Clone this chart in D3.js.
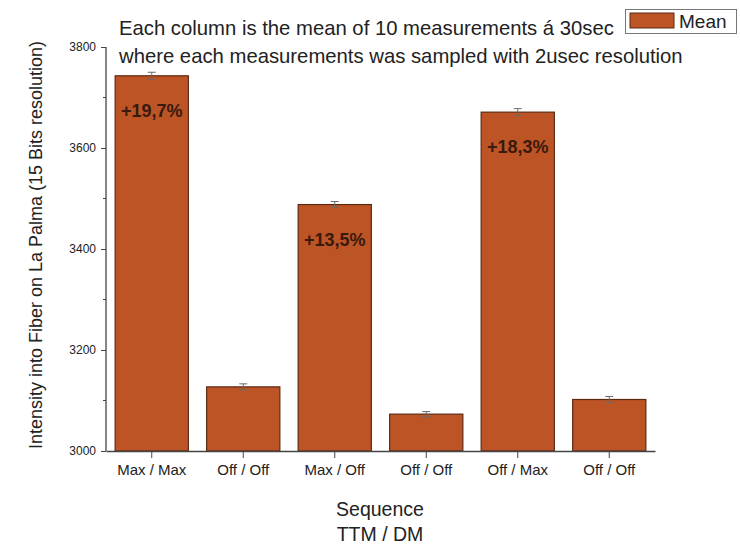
<!DOCTYPE html>
<html>
<head>
<meta charset="utf-8">
<script src="https://cdn.jsdelivr.net/npm/d3@7"></script>
<style>
  html, body { margin: 0; padding: 0; background: #fff; }
  svg { display: block; font-family: "Liberation Sans", Arial, sans-serif; }
</style>
</head>
<body>
<svg id="chart" width="740" height="544"></svg>
<script>
// Sequence of TTM / DM states and the mean intensity measured for each
const categories = ["Max / Max", "Off / Off", "Max / Off", "Off / Off", "Off / Max", "Off / Off"];
const means = [3743, 3127, 3488, 3073, 3671, 3102];
const errors = [7, 6, 6, 5, 7, 6];
const gainLabels = ["+19,7%", null, "+13,5%", null, "+18,3%", null];
const yTicks = [3000, 3200, 3400, 3600, 3800];
const yMinorTicks = [3100, 3300, 3500, 3700];

const svg = d3.select("#chart");
const barFill = "#bc5426";
const barStroke = "#5c2a14";
const axisColor = "#444";

const x = d3.scaleBand()
  .domain(d3.range(categories.length))
  .range([106, 655])
  .paddingInner(0.2)
  .paddingOuter(0.1);

const y = d3.scaleLinear().domain([3000, 3800]).range([451, 47]);

// bars
svg.append("g").selectAll("rect")
  .data(means)
  .join("rect")
  .attr("x", (d, i) => x(i))
  .attr("width", x.bandwidth())
  .attr("y", d => y(d))
  .attr("height", d => y(3000) - y(d))
  .attr("fill", barFill)
  .attr("stroke", barStroke)
  .attr("stroke-width", 1.2);

// error bars
const eb = svg.append("g").attr("stroke", "#6a6a6a").attr("stroke-width", 1);
means.forEach((m, i) => {
  const cx = x(i) + x.bandwidth() / 2;
  eb.append("line").attr("x1", cx).attr("x2", cx).attr("y1", y(m - errors[i])).attr("y2", y(m + errors[i]));
  eb.append("line").attr("x1", cx - 4).attr("x2", cx + 4).attr("y1", y(m + errors[i])).attr("y2", y(m + errors[i]));
  eb.append("line").attr("x1", cx - 4).attr("x2", cx + 4).attr("y1", y(m - errors[i])).attr("y2", y(m - errors[i]));
});

// percentage gains inside the high bars
svg.append("g").selectAll("text")
  .data(means.map((m, i) => ({ m, i, t: gainLabels[i] })).filter(d => d.t))
  .join("text")
  .attr("x", d => x(d.i) + x.bandwidth() / 2)
  .attr("y", d => y(d.m) + 41)
  .attr("text-anchor", "middle")
  .attr("font-size", 18)
  .attr("font-weight", "bold")
  .attr("fill", "#3a1a0c")
  .text(d => d.t);

// y axis
const yAxis = d3.axisLeft(y).tickValues(yTicks).tickSize(5).tickPadding(5).tickFormat(d3.format("d"));
const gy = svg.append("g").attr("transform", "translate(106,0)").call(yAxis);
gy.select(".domain").attr("stroke", axisColor).attr("stroke-width", 1.3).attr("d", `M0,${y(3800)}V${y(3000)}`);
gy.selectAll(".tick line").attr("stroke", axisColor);
gy.selectAll(".tick text").attr("font-size", 12).attr("fill", "#222");
gy.append("g").selectAll("line")
  .data(yMinorTicks)
  .join("line")
  .attr("x1", -3).attr("x2", 0)
  .attr("y1", d => y(d)).attr("y2", d => y(d))
  .attr("stroke", axisColor);

// x axis
const xAxis = d3.axisBottom(x).tickFormat(i => categories[i]).tickSize(7).tickPadding(6).tickSizeOuter(0);
const gx = svg.append("g").attr("transform", `translate(0,${y(3000)})`).call(xAxis);
gx.select(".domain").attr("stroke", axisColor).attr("stroke-width", 1.5);
gx.selectAll(".tick line").attr("stroke", axisColor);
gx.selectAll(".tick text").attr("font-size", 15).attr("fill", "#222");

// axis titles
svg.append("text")
  .attr("transform", "translate(42,245) rotate(-90)")
  .attr("text-anchor", "middle")
  .attr("font-size", 18)
  .attr("fill", "#222")
  .text("Intensity into Fiber on La Palma (15 Bits resolution)");

svg.append("text").attr("x", 380).attr("y", 516).attr("text-anchor", "middle")
  .attr("font-size", 19.5).attr("fill", "#222").text("Sequence");
svg.append("text").attr("x", 380).attr("y", 541).attr("text-anchor", "middle")
  .attr("font-size", 19.5).attr("fill", "#222").text("TTM / DM");

// annotation
const note = svg.append("g").attr("font-size", 20.3).attr("fill", "#222");
note.append("text").attr("x", 119).attr("y", 35).text("Each column is the mean of 10 measurements á 30sec");
note.append("text").attr("x", 119).attr("y", 63).text("where each measurements was sampled with 2usec resolution");

// legend
const lg = svg.append("g");
lg.append("rect").attr("x", 625.5).attr("y", 9.5).attr("width", 111).attr("height", 24)
  .attr("fill", "#fff").attr("stroke", "#777");
lg.append("rect").attr("x", 630).attr("y", 13).attr("width", 44).attr("height", 15)
  .attr("fill", barFill).attr("stroke", barStroke);
lg.append("text").attr("x", 679).attr("y", 28).attr("font-size", 19).attr("fill", "#222").text("Mean");
</script>
</body>
</html>
